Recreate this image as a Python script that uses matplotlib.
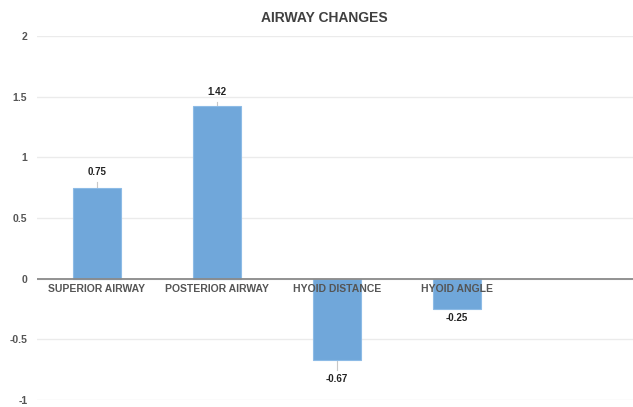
import matplotlib
matplotlib.use("Agg")
import matplotlib.pyplot as plt
import numpy as np

plt.rcParams['font.family'] = ['Liberation Sans', 'DejaVu Sans']

categories = ["SUPERIOR AIRWAY", "POSTERIOR AIRWAY", "HYOID DISTANCE", "HYOID ANGLE"]
values = [0.75, 1.42, -0.67, -0.25]
errors = [0.05, 0.04, 0.08, 0.0]
y_ticks = [-1, -0.5, 0, 0.5, 1, 1.5, 2]
y_tick_labels = ["-1", "-0.5", "0", "0.5", "1", "1.5", "2"]

W, H = 633, 407
fig = plt.figure(figsize=(W / 100, H / 100), dpi=100)
ax = fig.add_axes([37 / W, 7 / H, (W - 37) / W, 364 / H])

x = np.arange(len(categories))
bar_color = "#70a7da"
ax.bar(x, values, width=0.4, color=bar_color, edgecolor="#8dbbe6", linewidth=0.8, zorder=3)

# one-sided whiskers pointing away from zero
for xi, v, e in zip(x, values, errors):
    sign = 1 if v >= 0 else -1
    if e > 0:
        ax.plot([xi, xi], [v, v + sign * e], color="#c8c8c8", lw=0.8, zorder=2)
    ax.annotate(f"{v:.2f}", xy=(xi, v + sign * e), xytext=(0, 3 * sign),
                textcoords="offset points", ha="center",
                va="bottom" if v >= 0 else "top",
                fontsize=7, fontweight="bold", color="#222222")

# category labels sit just under the zero line
for xi, name in zip(x, categories):
    ax.annotate(name, xy=(xi, 0), xytext=(0, -4), textcoords="offset points",
                ha="center", va="top", fontsize=7.5, fontweight="bold",
                color="#555555", zorder=4)

ax.set_xlim(-0.5, -0.5 + (W - 37) / 120)
ax.set_ylim(-1, 2)
ax.set_yticks(y_ticks)
ax.set_yticklabels(y_tick_labels, fontsize=7.5, fontweight="bold", color="#555555")
ax.set_xticks([])
ax.tick_params(axis="y", length=0, pad=7)
ax.grid(axis="y", color="#ebebeb", lw=1.0, zorder=0)
ax.axhline(0, color="#8a8a8a", lw=1.3, zorder=4)
for s in ax.spines.values():
    s.set_visible(False)

fig.text(324 / W, 1 - 18 / H, "AIRWAY CHANGES", ha="center", va="center",
         fontsize=10, fontweight="bold", color="#404040")

fig.savefig("out.png", dpi=100, facecolor="white")
